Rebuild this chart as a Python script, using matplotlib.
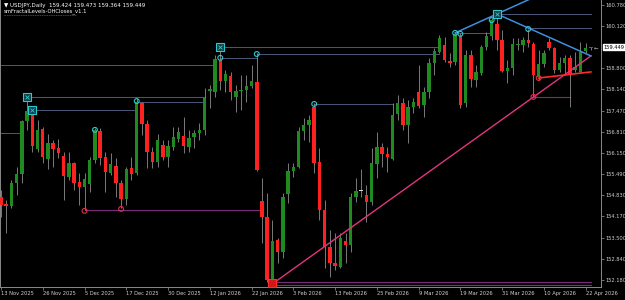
import matplotlib
matplotlib.use("Agg")
import matplotlib.pyplot as plt
import numpy as np

# USDJPY daily candles, bar index 0 = 13 Nov 2025
opens = [154.77, 154.55, 154.49, 155.21, 155.49, 157.15, 157.40, 156.27, 156.90, 155.96,
         156.46, 156.30, 156.06, 155.40, 155.84, 155.24, 155.09, 155.18, 155.93, 156.84,
         156.02, 155.53, 155.74, 155.21, 154.71, 155.68, 155.53, 157.71, 157.05, 156.18,
         155.87, 156.40, 156.02, 156.34, 156.59, 156.68, 156.34, 156.65, 156.77, 156.87,
         158.09, 158.06, 159.06, 158.40, 158.55, 157.90, 158.09, 158.12, 158.24, 158.37,
         154.65, 154.15, 152.18, 153.43, 153.06, 154.87, 155.59, 155.71, 156.84, 157.02,
         157.59, 155.87, 154.37, 153.21, 152.71, 152.59, 153.40, 153.27, 154.77, 154.99,
         154.84, 154.62, 155.81, 156.34, 156.12, 155.96, 157.37, 157.71, 157.02, 157.59,
         158.06, 157.65, 158.06, 158.96, 159.30, 159.52, 159.02, 158.99, 159.80, 157.71,
         159.21, 158.43, 158.65, 159.46, 159.80, 160.18, 159.68, 158.71, 158.80, 159.52,
         159.52, 159.68, 159.55, 158.52, 158.93, 159.62, 159.43, 158.74, 158.96, 159.12,
         158.74, 158.68, 159.34, 159.424]
highs = [154.99, 154.68, 155.30, 155.71, 157.18, 157.90, 157.49, 157.18, 156.96, 156.74,
         156.55, 156.59, 156.18, 156.18, 155.87, 155.52, 155.52, 156.02, 156.93, 156.93,
         156.18, 156.15, 155.99, 155.30, 155.71, 156.02, 157.87, 157.74, 157.18, 156.34,
         156.74, 156.55, 156.55, 156.96, 156.96, 157.27, 156.87, 156.87, 157.09, 158.18,
         158.27, 159.21, 159.40, 158.74, 158.68, 158.27, 158.59, 158.59, 158.90, 159.27,
         155.37, 154.90, 154.06, 153.49, 154.90, 155.84, 155.84, 156.96, 157.24, 157.34,
         157.71, 156.30, 154.68, 153.74, 153.65, 153.65, 153.65, 154.90, 155.37, 155.65,
         155.15, 156.30, 156.80, 156.46, 156.34, 157.71, 157.96, 157.87, 157.80, 157.87,
         158.90, 158.21, 159.12, 159.43, 159.83, 159.77, 159.27, 159.93, 159.90, 159.37,
         159.37, 158.90, 159.52, 159.93, 160.37, 160.49, 159.99, 159.05, 159.74, 159.74,
         159.77, 160.02, 159.62, 159.37, 159.37, 159.74, 159.46, 159.15, 159.21, 159.21,
         159.30, 159.62, 159.59, 159.473]
lows = [154.15, 153.65, 154.43, 154.84, 155.21, 156.87, 156.18, 156.18, 155.84, 155.65,
        155.71, 155.99, 154.68, 155.30, 154.99, 154.52, 154.37, 154.93, 155.84, 155.77,
        154.93, 155.46, 154.77, 154.43, 154.52, 155.30, 155.46, 156.71, 155.68, 155.68,
        155.71, 155.93, 155.71, 156.24, 156.49, 156.15, 156.18, 156.31, 156.55, 156.71,
        157.55, 157.90, 158.12, 158.06, 157.80, 157.43, 157.49, 157.74, 158.18, 155.59,
        153.34, 152.12, 152.06, 152.71, 152.87, 154.59, 155.40, 155.68, 156.55, 156.49,
        155.53, 154.06, 152.56, 152.28, 152.50, 152.56, 152.71, 153.06, 154.62, 154.77,
        153.99, 154.52, 155.37, 155.71, 155.56, 155.93, 157.18, 156.87, 156.46, 157.40,
        157.55, 157.27, 157.87, 158.58, 159.27, 158.99, 158.84, 158.90, 157.55, 157.59,
        158.21, 158.21, 158.58, 159.37, 159.68, 159.37, 158.68, 158.34, 158.58, 159.37,
        159.30, 159.46, 157.90, 158.43, 158.84, 159.37, 158.65, 158.68, 158.58, 157.59,
        158.68, 158.65, 159.27, 159.364]
closes = [154.52, 154.49, 155.21, 155.49, 157.15, 157.46, 156.37, 156.87, 156.02, 156.46,
          156.27, 156.15, 155.43, 155.84, 155.21, 155.09, 155.34, 155.93, 156.87, 155.99,
          155.56, 155.81, 155.21, 154.71, 155.65, 155.49, 157.74, 157.05, 156.18, 155.87,
          156.55, 156.02, 156.37, 156.65, 156.81, 156.37, 156.62, 156.77, 156.87, 157.87,
          158.15, 159.09, 158.40, 158.62, 158.06, 158.09, 158.12, 158.24, 158.40, 155.62,
          154.15, 152.18, 153.40, 153.06, 154.77, 155.59, 155.71, 156.84, 157.02, 157.18,
          155.84, 154.37, 153.21, 152.71, 152.62, 153.49, 153.27, 154.77, 154.96, 154.99,
          154.62, 155.84, 156.34, 156.12, 156.02, 157.34, 157.71, 157.02, 157.59, 157.74,
          157.62, 158.06, 158.96, 159.34, 159.74, 159.06, 158.96, 159.87, 157.65, 159.21,
          158.46, 158.68, 159.46, 159.80, 160.30, 159.68, 158.71, 158.80, 159.55, 159.55,
          159.68, 159.58, 158.58, 158.93, 159.27, 159.43, 158.74, 158.96, 159.12, 158.62,
          158.84, 159.30, 159.43, 159.449]

date_labels = ["13 Nov 2025", "26 Nov 2025", "5 Dec 2025", "17 Dec 2025", "30 Dec 2025",
               "12 Jan 2026", "22 Jan 2026", "3 Feb 2026", "13 Feb 2026", "25 Feb 2026",
               "9 Mar 2026", "19 Mar 2026", "31 Mar 2026", "10 Apr 2026", "22 Apr 2026"]
date_bars = [0, 8, 16, 24, 32, 40, 48, 56, 64, 72, 80, 88, 96, 104, 112]

price_ticks = [160.780, 160.120, 158.800, 158.140, 157.470, 156.810, 156.150,
               155.490, 154.830, 154.170, 153.500, 152.840, 152.180]
last_price = 159.449

# fractal levels (start bar, end bar, price)
lvl_start = [0, 0, 5, 6, 26, 42, 42, 49, 60, 87, 95, 101]
lvl_end = [41, 4, 39, 26, 39, 84, 49, 84, 75, 94, 113, 113]
lvl_price = [158.90, 156.77, 157.90, 157.49, 157.74, 159.46, 159.12, 159.24, 157.68,
             159.90, 160.49, 160.05]
low_lvl_start = [16, 52, 52, 102]
low_lvl_end = [50, 113, 113, 109]
low_lvl_price = [154.37, 152.12, 152.03, 157.90]

# markers
hh_bars = [5, 6, 42, 95]
hh_price = [157.90, 157.49, 159.46, 160.49]
hi_bars = [18, 26, 42, 49, 60, 87, 88, 94, 101]
hi_price = [156.87, 157.77, 159.12, 159.24, 157.68, 159.90, 159.87, 160.30, 160.02]
lo_bars = [16, 23, 102, 103]
lo_price = [154.34, 154.40, 157.90, 158.49]
ll_bars = [52]
ll_price = [152.09]

# trend lines (bar, price pairs)
pink_tl = ([52, 113], [152.06, 159.18])
red_tl = ([103, 113], [158.49, 158.68])
blue_up = ([87, 95, 106], [159.90, 160.49, 161.30])
blue_dn = ([95, 113], [160.49, 159.18])

fig = plt.figure(figsize=(6.25, 3.0), dpi=100, facecolor="black")
ax = fig.add_axes([0, 13 / 300, 601 / 625, 287 / 300])
ax.set_facecolor("black")

x = np.arange(len(opens))
o = np.array(opens); h = np.array(highs); l = np.array(lows); c = np.array(closes)
up = c > o
dn = c < o
eq = ~(up | dn)

ax.vlines(x, l, h, color="#8c8c8c", lw=0.6, zorder=2)
body = np.maximum(np.abs(c - o), 0.03)
bottom = np.minimum(o, c)
ax.bar(x[up], body[up], bottom=bottom[up], width=0.66, color="#1f8a1f", zorder=3)
ax.bar(x[dn], body[dn], bottom=bottom[dn], width=0.66, color="#ff2020", zorder=3)
ax.bar(x[eq], body[eq], bottom=bottom[eq] - 0.015, width=0.66, color="#d8d8d8", zorder=3)

for s, e, p in zip(lvl_start, lvl_end, lvl_price):
    ax.plot([s, e], [p, p], color="#4c5878", lw=0.7, zorder=1)
for s, e, p in zip(low_lvl_start, low_lvl_end, low_lvl_price):
    ax.plot([s, e], [p, p], color="#7a2d78", lw=0.8, zorder=1)

ax.plot(*pink_tl, color="#e2357d", lw=1.0, zorder=4)
ax.plot(*red_tl, color="#ff2a2a", lw=1.2, zorder=4)
ax.plot(*blue_up, color="#3f8fdc", lw=1.1, zorder=4)
ax.plot(*blue_dn, color="#3f8fdc", lw=1.1, zorder=4)

ax.scatter(hh_bars, hh_price, marker="s", s=30, facecolors="#0f3f45",
           edgecolors="#2fc6d0", linewidths=0.8, zorder=5)
ax.scatter(hh_bars, hh_price, marker="x", s=8, color="#2fc6d0", linewidths=0.6, zorder=6)
ax.scatter(hi_bars, hi_price, marker="o", s=12, facecolors="none",
           edgecolors="#2fc6d0", linewidths=0.8, zorder=5)
ax.scatter(lo_bars, lo_price, marker="o", s=12, facecolors="none",
           edgecolors="#e0304a", linewidths=0.8, zorder=5)
ax.scatter(ll_bars, ll_price, marker="s", s=30, facecolors="#d01818",
           edgecolors="#ff3030", linewidths=0.8, zorder=5)

ax.set_xlim(-0.19, 114.94)
ax.set_ylim(151.961, 160.927)

ax.yaxis.tick_right()
ax.set_yticks(price_ticks)
ax.set_yticklabels([f"{p:.3f}" for p in price_ticks])
ax.set_xticks(date_bars)
ax.set_xticklabels(date_labels, ha="left")
ax.tick_params(axis="both", colors="#9a9a9a", labelcolor="#d0d0d0", labelsize=3.7,
               length=2, width=0.5, pad=1)
ax.spines["top"].set_visible(False)
for sp in ["right", "bottom", "left"]:
    ax.spines[sp].set_color("#8a8a8a")
    ax.spines[sp].set_linewidth(0.7)

ax.text(1.004, last_price, f"{last_price:.3f}", transform=ax.get_yaxis_transform(),
        fontsize=3.7, color="black", va="center", ha="left",
        bbox=dict(boxstyle="square,pad=0.12", fc="white", ec="white"))
ax.text(113.6, last_price, "\u2190", fontsize=4, color="#b0b0b0", va="center")

fig.text(4 / 625, 1 - 5 / 300, "\u25bc USDJPY,Daily  159.424 159.473 159.364 159.449",
         color="white", fontsize=4.0, va="center")
fig.text(4 / 625, 1 - 11 / 300, "smFractalLevels-OHCloses_v1.1",
         color="white", fontsize=3.8, va="center")
fig.text(4 / 625, 1 - 16 / 300, "-" * 42, color="#8a8a8a", fontsize=3.5, va="center")

fig.savefig("out.png", dpi=100, facecolor="black")
